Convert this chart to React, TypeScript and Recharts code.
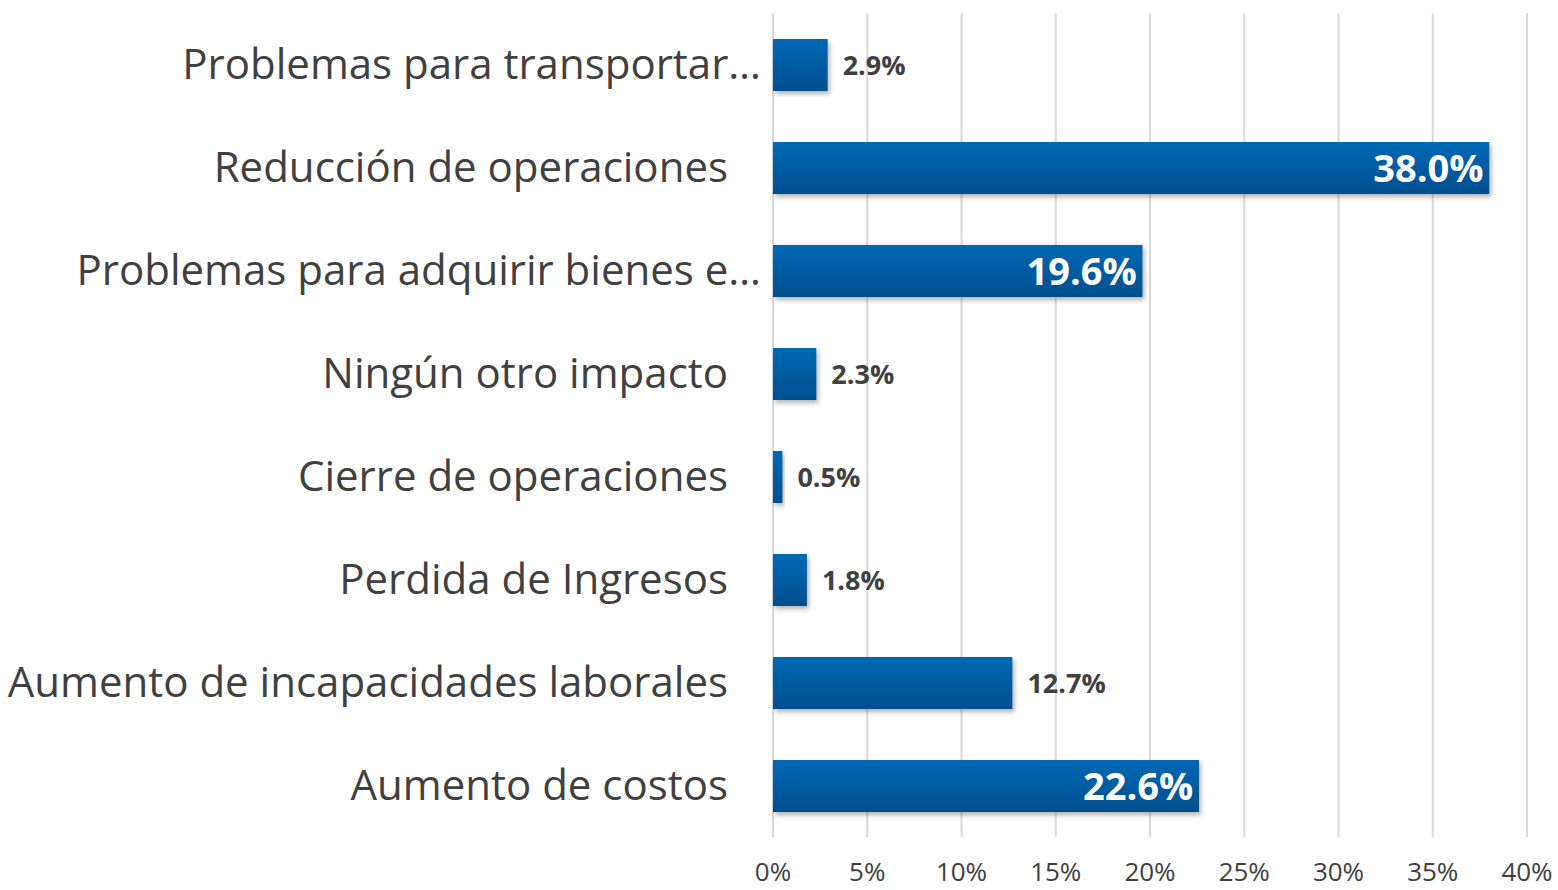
import React from "react";
import {
  BarChart,
  Bar,
  XAxis,
  YAxis,
  CartesianGrid,
  LabelList,
} from "recharts";

const categories = [
  "Problemas para transportar…",
  "Reducción de operaciones",
  "Problemas para adquirir bienes e…",
  "Ningún otro impacto",
  "Cierre de operaciones",
  "Perdida de Ingresos",
  "Aumento de incapacidades laborales",
  "Aumento de costos",
];

const values = [0.029, 0.38, 0.196, 0.023, 0.005, 0.018, 0.127, 0.226];

const xTicks = [0, 0.05, 0.1, 0.15, 0.2, 0.25, 0.3, 0.35, 0.4];

const data = categories.map((name, i) => ({ name, value: values[i] }));

const FONT = "'Open Sans', 'Liberation Sans', sans-serif";
const TEXT = "#404040";

function CategoryTick(props: any) {
  const { x, y, payload } = props;
  const label: string = payload.value;
  // truncated labels sit a bit further right, as in the original
  const shift = label.endsWith("…") ? 33 : 0;
  return (
    <text
      x={x - 37 + shift}
      y={y}
      dy={14}
      textAnchor="end"
      fill={TEXT}
      fontSize={42}
      fontFamily={FONT}
    >
      {label}
    </text>
  );
}

function PercentTick(props: any) {
  const { x, payload } = props;
  return (
    <text
      x={x}
      y={881}
      textAnchor="middle"
      fill={TEXT}
      fontSize={26}
      fontFamily={FONT}
    >
      {`${Math.round(payload.value * 100)}%`}
    </text>
  );
}

function ValueLabel(props: any) {
  const { x, y, width, height, value } = props;
  const text = `${(value * 100).toFixed(1)}%`;
  const cy = y + height / 2;
  if (value > 0.15) {
    return (
      <text
        x={x + width - 116}
        y={cy + 14}
        textAnchor="start"
        fill="#ffffff"
        fontSize={38}
        fontWeight="bold"
        fontFamily={FONT}
      >
        {text}
      </text>
    );
  }
  return (
    <text
      x={x + width + 15}
      y={cy + 10}
      textAnchor="start"
      fill={TEXT}
      fontSize={27}
      fontWeight="bold"
      fontFamily={FONT}
    >
      {text}
    </text>
  );
}

export default function App() {
  return (
    <div style={{ position: "absolute", left: 0, top: 0, background: "#fff" }}>
      <BarChart
        width={1558}
        height={890}
        data={data}
        layout="vertical"
        margin={{ top: 13, right: 31, bottom: 0, left: 0 }}
        barSize={52}
      >
        <defs>
          <linearGradient id="barFill" x1="0" y1="0" x2="0" y2="1">
            <stop offset="0%" stopColor="#0569b4" />
            <stop offset="100%" stopColor="#064f8e" />
          </linearGradient>
          <filter id="barShadow" x="-10%" y="-20%" width="130%" height="160%">
            <feDropShadow dx="2" dy="3" stdDeviation="2.5" floodColor="#000" floodOpacity="0.3" />
          </filter>
        </defs>
        <CartesianGrid horizontal={false} stroke="#d9d9d9" strokeWidth={2} />
        <XAxis
          type="number"
          domain={[0, 0.4]}
          ticks={xTicks}
          axisLine={false}
          tickLine={false}
          height={53}
          tick={<PercentTick />}
          interval={0}
        />
        <YAxis
          type="category"
          dataKey="name"
          width={773}
          axisLine={false}
          tickLine={false}
          tick={<CategoryTick />}
          interval={0}
        />
        <Bar
          dataKey="value"
          fill="url(#barFill)"
          filter="url(#barShadow)"
          isAnimationActive={false}
        >
          <LabelList dataKey="value" content={<ValueLabel />} />
        </Bar>
      </BarChart>
    </div>
  );
}
